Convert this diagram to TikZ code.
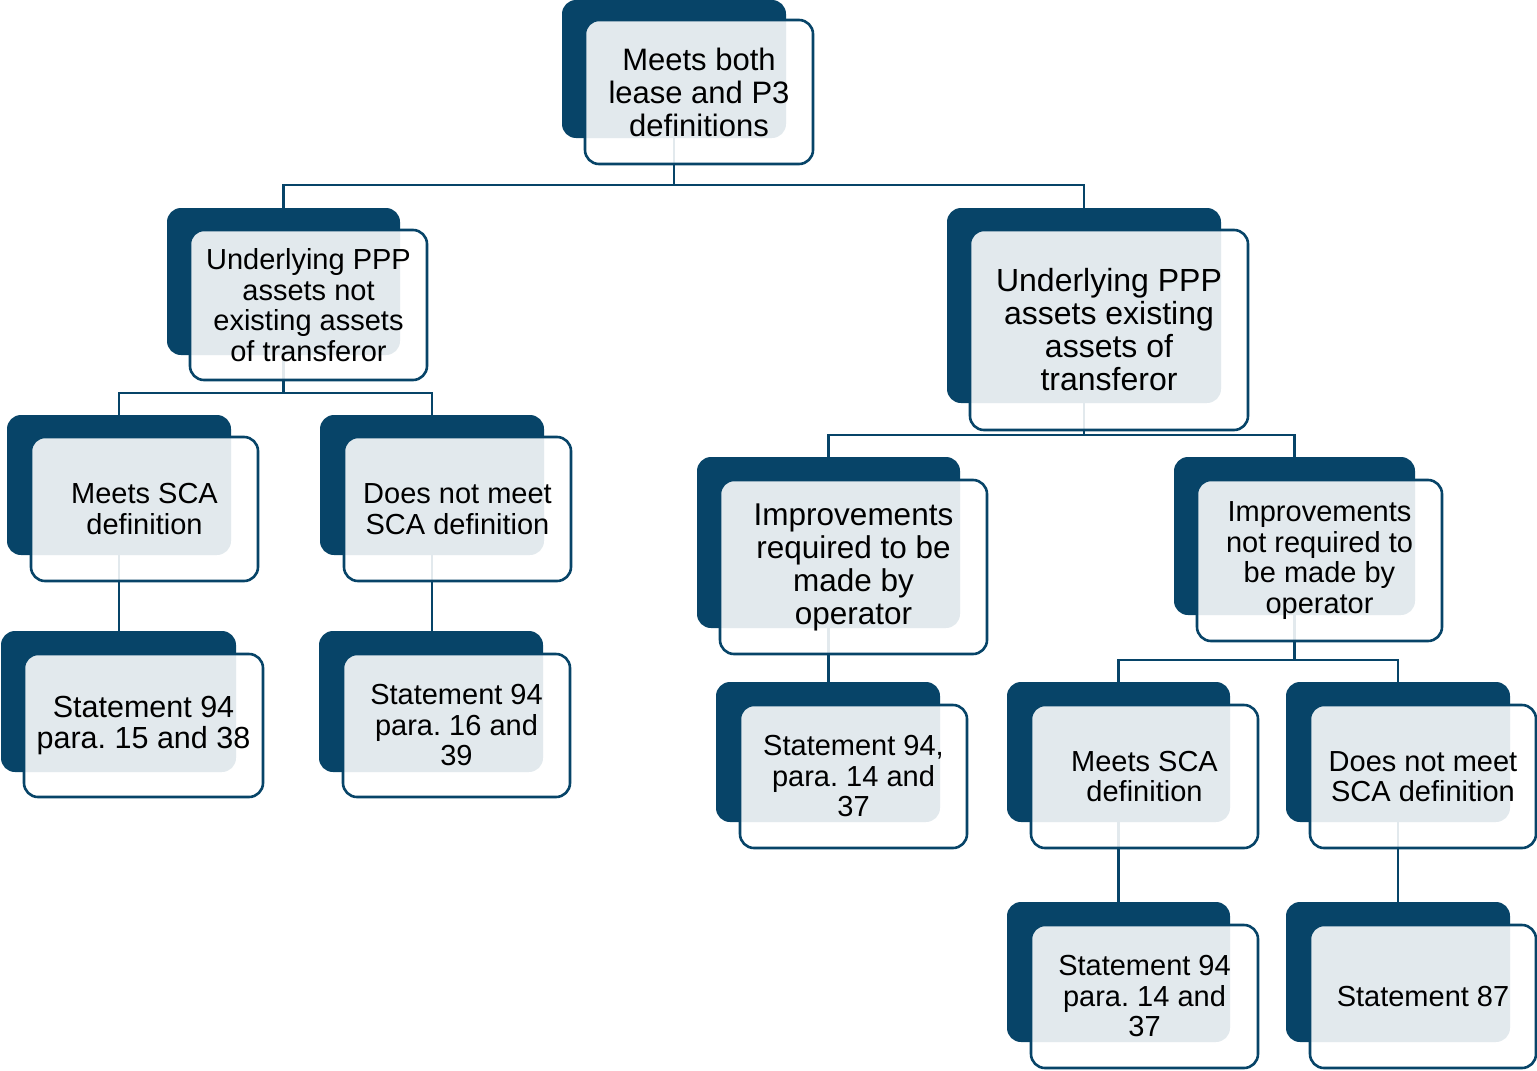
\documentclass[tikz,border=0pt]{standalone}
\usepackage{fontspec}
\setmainfont{Liberation Sans}
\frenchspacing
\pgfdeclarelayer{background}
\pgfsetlayers{background,main}
\definecolor{navy}{HTML}{074468}
\newcommand{\fsz}[2]{\fontsize{#1}{#2}\selectfont}
\tikzset{
  darkbox/.style={rectangle, rounded corners=14pt, fill=navy, draw=none, inner sep=0pt, outer sep=0pt},
  frontbox/.style={rectangle, rounded corners=14pt, fill=white, fill opacity=0.886, text opacity=1, draw=navy, line width=2.6pt, draw opacity=1, inner sep=0pt, outer sep=0pt, align=center, text=black, font=\fsz{29}{30.5}},
  conn/.style={draw=navy, line width=2.6pt},
}
\begin{document}
\begin{tikzpicture}[x=1pt,y=-1pt]
\useasboundingbox (0,0) rectangle (1537,1071);

\begin{pgfonlayer}{background}
\node[darkbox, minimum width=224pt, minimum height=138pt] (rootd) at (674,69) {};
\node[darkbox, minimum width=233pt, minimum height=147pt] (l1d) at (283.5,281.5) {};
\node[darkbox, minimum width=274pt, minimum height=195pt] (r1d) at (1084,305.5) {};
\node[darkbox, minimum width=224pt, minimum height=140pt] (l2ad) at (119,485) {};
\node[darkbox, minimum width=224pt, minimum height=140pt] (l2bd) at (432,485) {};
\node[darkbox, minimum width=235pt, minimum height=141pt] (l3ad) at (118.5,701.5) {};
\node[darkbox, minimum width=224pt, minimum height=141pt] (l3bd) at (431,701.5) {};
\node[darkbox, minimum width=263pt, minimum height=171pt] (r2ad) at (828.5,542.5) {};
\node[darkbox, minimum width=241pt, minimum height=158pt] (r2bd) at (1294.5,536) {};
\node[darkbox, minimum width=224pt, minimum height=140pt] (r3ad) at (828,752) {};
\node[darkbox, minimum width=223pt, minimum height=140pt] (r3bd) at (1118.5,752) {};
\node[darkbox, minimum width=224pt, minimum height=140pt] (r3cd) at (1398,752) {};
\node[darkbox, minimum width=223pt, minimum height=140pt] (r4ad) at (1118.5,972) {};
\node[darkbox, minimum width=224pt, minimum height=140pt] (r4bd) at (1398,972) {};

\draw[conn] (rootd.south) -- ++(0,47) -| (l1d.north);
\draw[conn] (rootd.south) -- ++(0,47) -| (r1d.north);
\draw[conn] (l1d.south) -- ++(0,38) -| (l2ad.north);
\draw[conn] (l1d.south) -- ++(0,38) -| (l2bd.north);
\draw[conn] (l2ad.south) -- (l3ad.north -| l2ad.south);
\draw[conn] (l2bd.south) -- (l3bd.north -| l2bd.south);
\draw[conn] (r1d.south) -- ++(0,32) -| (r2ad.north);
\draw[conn] (r1d.south) -- ++(0,32) -| (r2bd.north);
\draw[conn] (r2ad.south) -- (r3ad.north -| r2ad.south);
\draw[conn] (r2bd.south) -- ++(0,45) -| (r3bd.north);
\draw[conn] (r2bd.south) -- ++(0,45) -| (r3cd.north);
\draw[conn] (r3bd.south) -- (r4ad.north -| r3bd.south);
\draw[conn] (r3cd.south) -- (r4bd.north -| r3cd.south);
\end{pgfonlayer}

\node[frontbox, minimum width=228pt, minimum height=144pt, font=\fsz{31}{33}] (root) at (699,92) {Meets both\\lease and P3\\definitions};
\node[frontbox, minimum width=237pt, minimum height=150pt] (l1) at (308.5,305) {Underlying PPP\\assets not\\existing assets\\of transferor};
\node[frontbox, minimum width=278pt, minimum height=200pt, font=\fsz{32}{33}] (r1) at (1109,330) {Underlying PPP\\assets existing\\assets of\\transferor};
\node[frontbox, minimum width=227pt, minimum height=144pt] (l2a) at (144.5,509) {Meets SCA\\definition};
\node[frontbox, minimum width=227pt, minimum height=144pt] (l2b) at (457.5,509) {Does not meet\\SCA definition};
\node[frontbox, minimum width=239pt, minimum height=143pt, font=\fsz{30.5}{31}] (l3a) at (143.5,725.5) {Statement 94\\para. 15 and 38};
\node[frontbox, minimum width=227pt, minimum height=143pt] (l3b) at (456.5,725.5) {Statement 94\\para. 16 and\\39};
\node[frontbox, minimum width=267pt, minimum height=174pt, font=\fsz{31.5}{33}] (r2a) at (853.5,567) {Improvements\\required to be\\made by\\operator};
\node[frontbox, minimum width=245pt, minimum height=161pt] (r2b) at (1319.5,560.5) {Improvements\\not required to\\be made by\\operator};
\node[frontbox, minimum width=227pt, minimum height=143pt] (r3a) at (853.5,776.5) {Statement 94,\\para. 14 and\\37};
\node[frontbox, minimum width=227pt, minimum height=143pt] (r3b) at (1144.5,776.5) {Meets SCA\\definition};
\node[frontbox, minimum width=226pt, minimum height=143pt] (r3c) at (1423,776.5) {Does not meet\\SCA definition};
\node[frontbox, minimum width=227pt, minimum height=143pt] (r4a) at (1144.5,996.5) {Statement 94\\para. 14 and\\37};
\node[frontbox, minimum width=226pt, minimum height=143pt] (r4b) at (1423,996.5) {Statement 87};
\end{tikzpicture}
\end{document}
